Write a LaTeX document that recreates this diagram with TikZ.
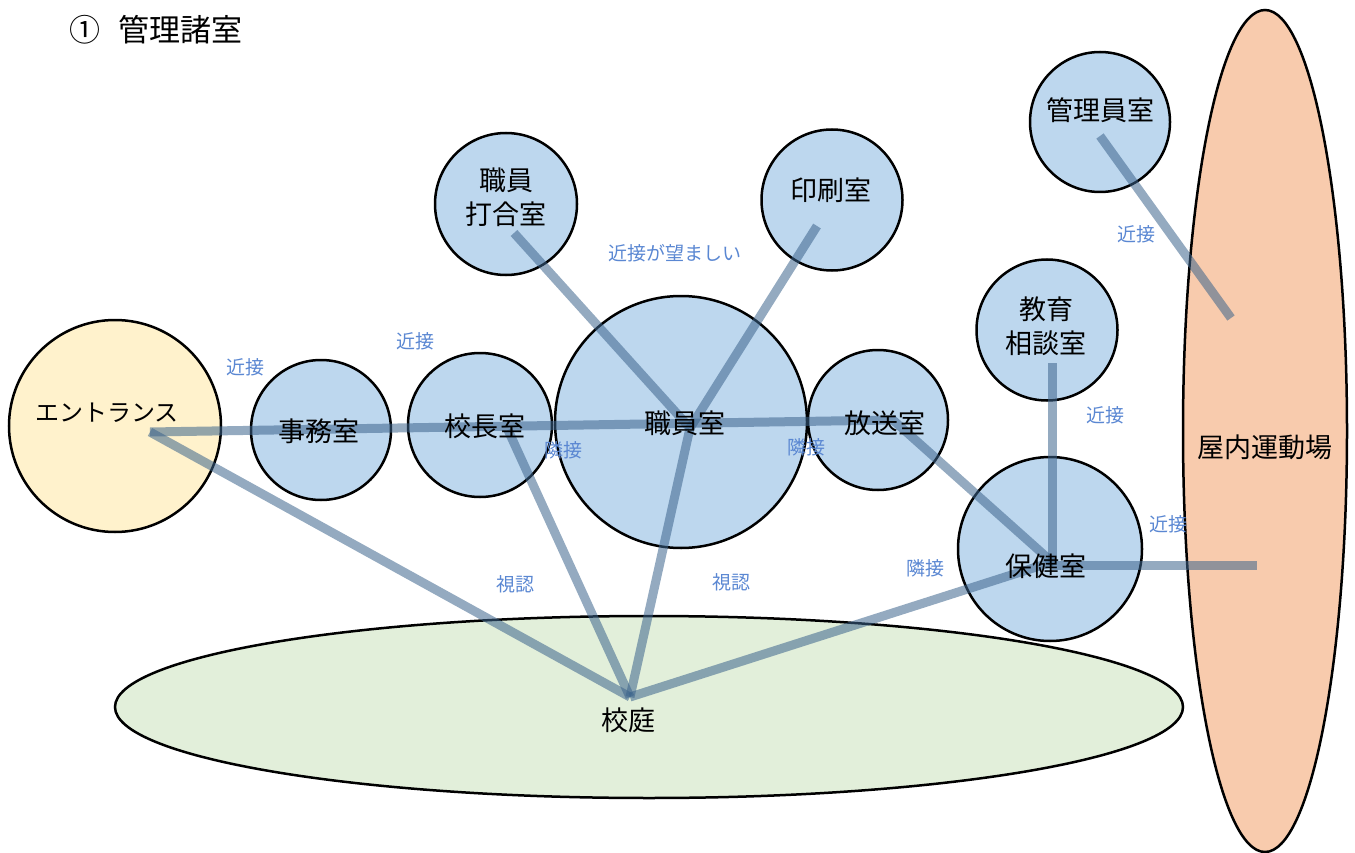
\documentclass[tikz,border=0pt]{standalone}
\usepackage{fontspec}
\setmainfont{Noto Sans CJK JP}
\usetikzlibrary{shapes.geometric}
\definecolor{roomblue}{HTML}{BDD7EE}
\definecolor{entyellow}{HTML}{FFF2CC}
\definecolor{gymorange}{HTML}{F8CBAD}
\definecolor{yardgreen}{HTML}{E2EFDA}
\definecolor{linkc}{RGB}{60,100,140}
\definecolor{lblc}{RGB}{90,135,210}
\tikzset{
  room/.style={circle, draw=black, line width=2.5pt, fill=roomblue, inner sep=0pt, align=center,
    font=\fontsize{27}{34}\selectfont},
  area/.style={ellipse, draw=black, line width=2.5pt, inner sep=0pt, align=center,
    font=\fontsize{27}{34}\selectfont},
  link/.style={line width=9pt, draw=linkc, draw opacity=0.55},
  rel/.style={text=lblc, font=\fontsize{19}{22}\selectfont, inner sep=0pt},
  rtext/.style={font=\fontsize{27}{34}\selectfont, align=center},
}
\begin{document}
\begin{tikzpicture}[x=1pt,y=-1pt]
\useasboundingbox (0,0) rectangle (1355,853);
% title
\node[anchor=west, font=\fontsize{31}{34}\selectfont, inner sep=0pt] (title) at (69,30) {①\hspace{0.6em}管理諸室};
% areas
\node[area, fill=gymorange, minimum width=164pt, minimum height=842pt] (gym) at (1265,431) {};
\node[area, fill=yardgreen, minimum width=1068pt, minimum height=182pt] (yard) at (649,707) {};
\node[rtext] (gymt) at (1265,447) {屋内運動場};
\node[rtext] (yardt) at (628,720) {校庭};
% rooms
\node[room, fill=entyellow, minimum size=212pt] (ent) at (115,426) {};
\node[font=\fontsize{24}{30}\selectfont] (entt) at (107,413) {エントランス};
\node[room, minimum size=140pt] (jimu) at (321,430) {};
\node[room, minimum size=144pt] (kocho) at (480,425) {};
\node[room, minimum size=252pt] (shokuin) at (681,422) {};
\node[room, minimum size=140pt] (hoso) at (878,420) {};
\node[room, minimum size=142pt] (uchiawase) at (506,204) {};
\node[room, minimum size=141pt] (insatsu) at (832,200) {};
\node[room, minimum size=140pt] (kanri) at (1100,122) {};
\node[room, minimum size=141pt] (sodan) at (1047,330) {};
\node[room, minimum size=184pt] (hoken) at (1050,549) {};
% hubs
\coordinate (entP) at (150,432);
\coordinate (hosoP) at (893,420);
\coordinate (hokenP) at (1052,562);
\coordinate (hokenR) at (1052,565);
\coordinate (gymP) at (1257,565);
\coordinate (gymQ) at (1231,318);
\coordinate (kanriP) at (1100,136);
\coordinate (sodanP) at (1052,363);
\coordinate (yardP) at (630,697);
\coordinate (kochoP) at (508,430);
\coordinate (shokuinP) at (690,428);
\coordinate (uchiP) at (514,233);
\coordinate (insatsuP) at (817,226);
% links
\draw[link] (entP) -- (hosoP) -- (hokenP);
\draw[link] (entP) -- (yardP);
\draw[link] (kochoP) -- (yardP);
\draw[link] (uchiP) -- (shokuinP);
\draw[link] (insatsuP) -- (shokuinP);
\draw[link] (shokuinP) -- (yardP);
\draw[link] (hokenP) -- (yardP);
\draw[link] (sodanP) -- (hokenR);
\draw[link] (hokenR) -- (gymP);
\draw[link] (kanriP) -- (gymQ);
% room texts
\node[rtext] (jimut) at (319,431) {事務室};
\node[rtext] (kochot) at (485,426) {校長室};
\node[rtext] (shokuint) at (685,423) {職員室};
\node[rtext] (hosot) at (885,423) {放送室};
\node[rtext] (uchit) at (506,197) {職員\\打合室};
\node[rtext] (insatsut) at (831,190) {印刷室};
\node[rtext] (kanrit) at (1100,110) {管理員室};
\node[rtext] (sodant) at (1046,326) {教育\\相談室};
\node[rtext] (hokent) at (1046,566) {保健室};
% relation labels
\node[rel] (r1) at (245,367) {近接};
\node[rel] (r2) at (415,341) {近接};
\node[rel] (r3) at (675,253) {近接が望ましい};
\node[rel] (r4) at (563,450) {隣接};
\node[rel] (r5) at (806,447) {隣接};
\node[rel] (r6) at (1136,234) {近接};
\node[rel] (r7) at (1105,415) {近接};
\node[rel] (r8) at (1168,524) {近接};
\node[rel] (r9) at (925,568) {隣接};
\node[rel] (r10) at (515,584) {視認};
\node[rel] (r11) at (731,582) {視認};
\end{tikzpicture}
\end{document}
